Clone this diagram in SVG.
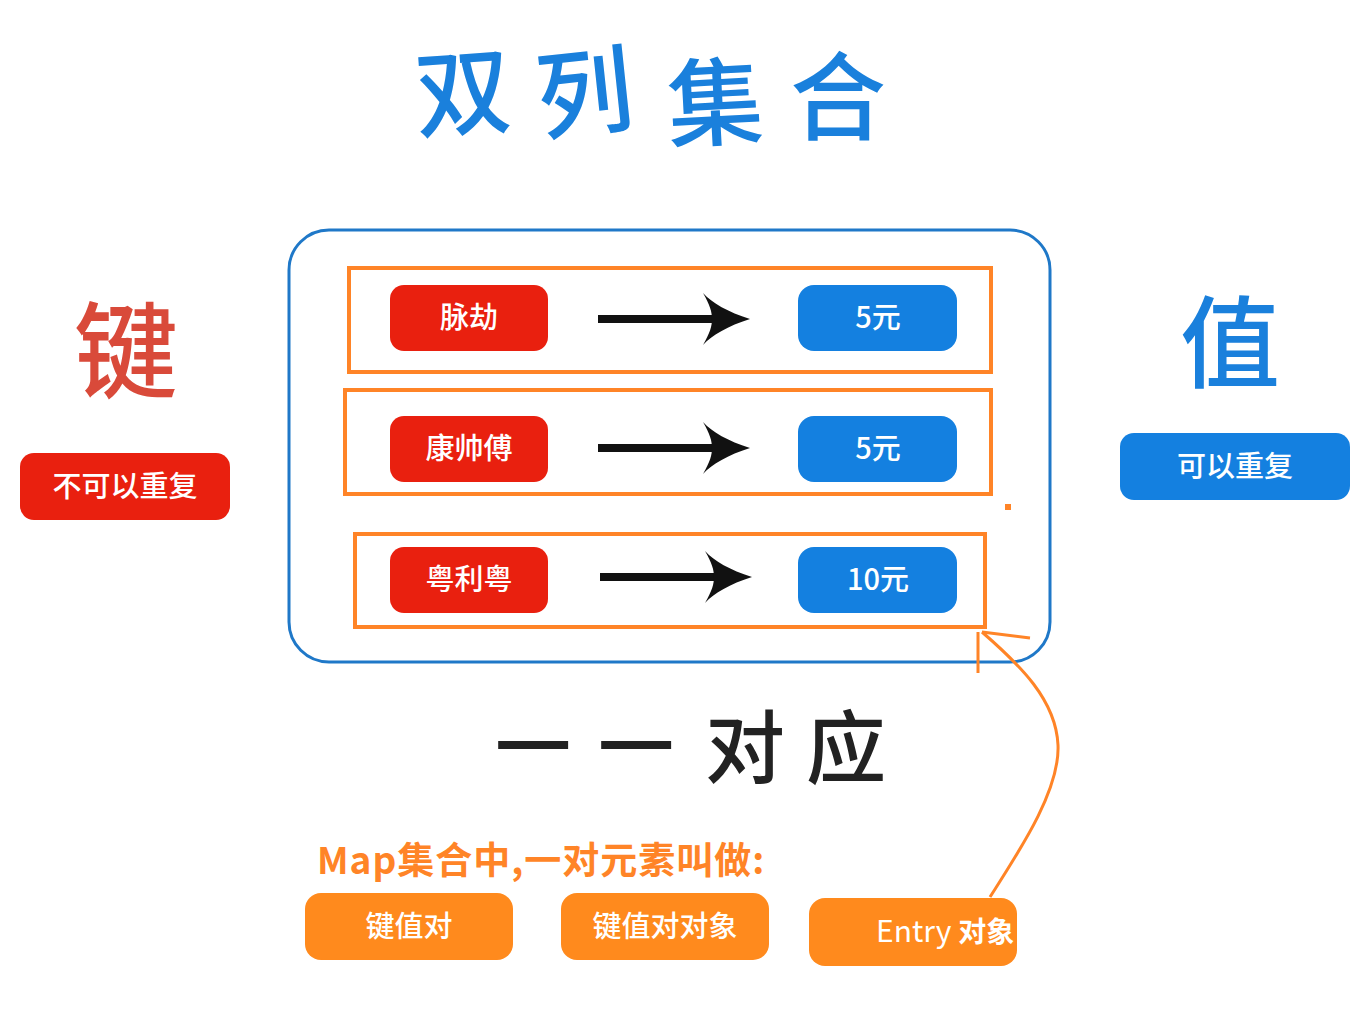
<svg xmlns="http://www.w3.org/2000/svg" xmlns:xlink="http://www.w3.org/1999/xlink" width="1363" height="1027" viewBox="0 0 1363 1027">
<style>
.cjk{font-family:"Noto Sans CJK SC","Noto Sans",sans-serif}
.red{fill:#e9200f}
.blue{fill:#1480e0}
.org{fill:#ff8a1d}
.obox{fill:none;stroke:#ff8427;stroke-width:4}
.wt{fill:#fff;font-size:29px;font-weight:500;text-anchor:middle;font-family:"Noto Sans CJK SC","Noto Sans",sans-serif}
.title{fill:#1a80dc;font-size:96px;font-weight:500;text-anchor:middle}
</style>
<defs>
<g id="arr">
<rect x="0" y="-4" width="118" height="8" fill="#111"/>
<path d="M152,0 C130,-7 114,-16 105,-26 C112,-14 114,-7 114,0 C114,7 112,14 105,26 C114,16 130,7 152,0 Z" fill="#111"/>
</g>
</defs>
<rect width="1363" height="1027" fill="#fff"/>

<g id="title" class="cjk">
<text class="title" x="463" y="128" transform="rotate(-4 463 95)">双</text>
<text class="title" x="585" y="128" transform="rotate(-6 585 95)">列</text>
<text class="title" x="715" y="138" transform="rotate(-3 715 100)">集</text>
<text class="title" x="838" y="132">合</text>
</g>

<g id="key-label" class="cjk">
<text x="126" y="390" font-size="104" font-weight="500" fill="#d94a3a" text-anchor="middle">键</text>
</g>
<g id="key-norepeat">
<rect x="20" y="453" width="210" height="67" rx="14" class="red"/>
<text x="125" y="497" class="wt" font-size="30">不可以重复</text>
</g>

<g id="value-label" class="cjk">
<text x="1230" y="380" font-size="100" font-weight="500" fill="#1a80dc" text-anchor="middle">值</text>
</g>
<g id="value-repeat">
<rect x="1120" y="433" width="230" height="67" rx="14" class="blue"/>
<text x="1235" y="477" class="wt" font-size="30">可以重复</text>
</g>

<g id="map-container">
<rect x="289" y="230" width="761" height="432" rx="40" fill="none" stroke="#1f78c8" stroke-width="3"/>
</g>

<g id="entry1">
<rect x="349" y="268" width="642" height="104" class="obox"/>
<rect x="390" y="285" width="158" height="66" rx="14" class="red"/>
<text x="469" y="328" class="wt">脉劫</text>
<rect x="798" y="285" width="159" height="66" rx="16" class="blue"/>
<text x="878" y="328" class="wt">5元</text>
</g>
<g id="entry2">
<rect x="345" y="390" width="646" height="104" class="obox"/>
<rect x="390" y="416" width="158" height="66" rx="14" class="red"/>
<text x="469" y="459" class="wt">康帅傅</text>
<rect x="798" y="416" width="159" height="66" rx="16" class="blue"/>
<text x="878" y="459" class="wt">5元</text>
</g>
<g id="entry3">
<rect x="355" y="534" width="630" height="93" class="obox"/>
<rect x="390" y="547" width="158" height="66" rx="14" class="red"/>
<text x="469" y="590" class="wt">粤利粤</text>
<rect x="798" y="547" width="159" height="66" rx="16" class="blue"/>
<text x="878" y="590" class="wt">10元</text>
</g>
<rect x="1005" y="504" width="6" height="6" fill="#ff8427"/>

<g id="connectors">
<use xlink:href="#arr" x="598" y="319"/>
<use xlink:href="#arr" x="598" y="448"/>
<use xlink:href="#arr" x="600" y="577"/>
<path d="M990,897 C1020,850 1060,790 1058,745 C1056,700 1020,665 982,632" fill="none" stroke="#ff8427" stroke-width="3"/>
<path d="M978,673 L978,632 M982,632 L1030,638" fill="none" stroke="#ff8427" stroke-width="3"/>
</g>

<g id="one-to-one" class="cjk" fill="#222" font-weight="500">
<text x="533" y="775" font-size="76" text-anchor="middle">一</text>
<text x="636" y="775" font-size="76" text-anchor="middle">一</text>
<text x="745" y="777" font-size="80" text-anchor="middle">对</text>
<text x="846" y="777" font-size="80" text-anchor="middle">应</text>
</g>

<g id="caption">
<text x="317" y="874" font-size="37" font-weight="bold" fill="#ff8427" font-family="'Noto Sans CJK SC','Noto Sans',sans-serif" letter-spacing="1">Map集合中,一对元素叫做:</text>
</g>
<g id="kv">
<rect x="305" y="893" width="208" height="67" rx="16" class="org"/>
<text x="409" y="937" class="wt" font-size="30">键值对</text>
</g>
<g id="kv-obj">
<rect x="561" y="893" width="208" height="67" rx="16" class="org"/>
<text x="665" y="937" class="wt" font-size="30">键值对对象</text>
</g>
<g id="entry-obj">
<rect x="809" y="898" width="208" height="68" rx="16" class="org"/>
<text x="876" y="942" fill="#fff" font-size="30" font-family="'Noto Sans CJK SC','Noto Sans',sans-serif">Entry <tspan font-weight="bold" font-size="28">对象</tspan></text>
</g>
</svg>
